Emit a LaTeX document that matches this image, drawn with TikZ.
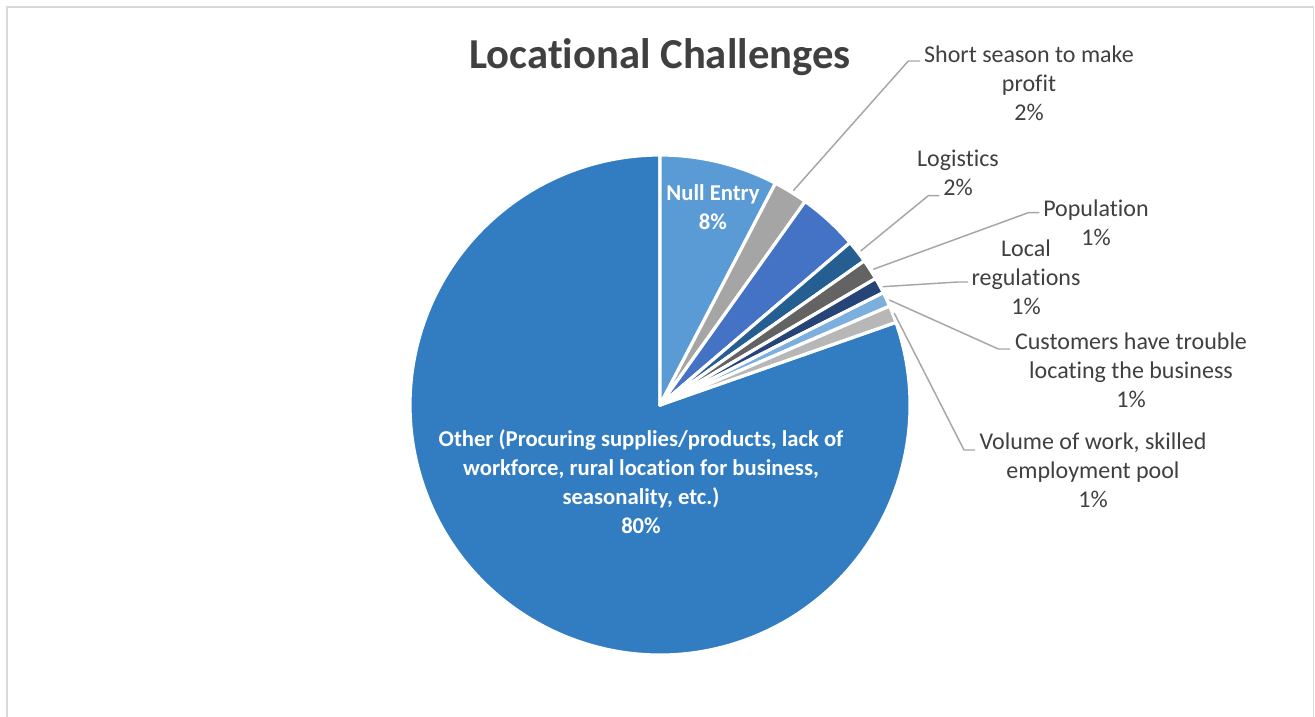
\documentclass[tikz,border=0pt]{standalone}
\usepackage{fontspec}
\setmainfont{Carlito}[Ligatures={NoCommon}]
\definecolor{txt}{HTML}{404040}
\definecolor{lead}{HTML}{A6A6A6}
\definecolor{frame}{HTML}{D9D9D9}
\definecolor{cOther}{HTML}{327DC2}
\definecolor{cNull}{HTML}{5B9BD5}
\definecolor{cShort}{HTML}{A5A5A5}
\definecolor{cBlue}{HTML}{4472C4}
\definecolor{cLog}{HTML}{255E91}
\definecolor{cPop}{HTML}{636363}
\definecolor{cLoc}{HTML}{264478}
\definecolor{cCust}{HTML}{7CAFDD}
\definecolor{cVol}{HTML}{B7B7B7}
\tikzset{
  slicebox/.style={draw=white, line width=2.4pt, line join=round},
  lbl/.style={text=txt, align=center, inner sep=0pt, font=\fontsize{18}{21.75}\selectfont},
  inlbl/.style={text=white, align=center, inner sep=0pt, font=\bfseries\fontsize{17}{21.75}\selectfont},
  leader/.style={draw=lead, line width=1.1pt},
}
\newcommand{\pieslice}[3]{%
  \fill[#3, slicebox] (c) -- ++(#1:187.5pt) arc[start angle=#1, end angle=#2, radius=187.5pt] -- cycle;}
\begin{document}
\begin{tikzpicture}[x=0.75pt,y=0.75pt]
\useasboundingbox (0,0) rectangle (1315,717);
\fill[white] (0,0) rectangle (1315,717);
\draw[frame, line width=1.2pt] (7,0) -- (7,710) -- (1313.5,710) -- (1313.5,0);
\coordinate (c) at (660,312);
\pieslice{19.3}{-270}{cOther}
\pieslice{90}{62.5}{cNull}
\pieslice{62.5}{54.5}{cShort}
\pieslice{54.5}{40.5}{cBlue}
\pieslice{40.5}{35.2}{cLog}
\pieslice{35.2}{30.4}{cPop}
\pieslice{30.4}{26.7}{cLoc}
\pieslice{26.7}{23.3}{cCust}
\pieslice{23.3}{19.3}{cVol}

\node[text=txt, font=\bfseries\fontsize{32}{36}\selectfont, inner sep=0pt] (title) at (660,660) {Locational Challenges};

\node[inlbl] (null) at (713,509.5) {Null Entry\\8\%};
\node[inlbl] (other) at (641,235.5) {Other (Procuring supplies/products, lack of\\workforce, rural location for business,\\seasonality, etc.)\\80\%};

\node[lbl] (short) at (1029,634) {Short season to make\\profit\\2\%};
\node[lbl] (logi) at (958,544.5) {Logistics\\2\%};
\node[lbl] (popu) at (1096,494.5) {Population\\1\%};
\node[lbl] (local) at (1026,440) {Local\\regulations\\1\%};
\node[lbl] (cust) at (1131,347) {Customers have trouble\\locating the business\\1\%};
\node[lbl] (vol) at (1093,247) {Volume of work, skilled\\employment pool\\1\%};

\coordinate (sA) at (793.3,526.3); \coordinate (sB) at (908.3,656); \coordinate (sC) at (920,656);
\coordinate (lA) at (860.7,466);   \coordinate (lB) at (928.3,521.3); \coordinate (lC) at (939.3,521.3);
\coordinate (pA) at (873.3,447.7); \coordinate (pB) at (1028.3,504.3); \coordinate (pC) at (1039.3,504.3);
\coordinate (rA) at (882.7,430.3); \coordinate (rB) at (958,435); \coordinate (rC) at (968,435);
\coordinate (cA) at (889.3,417);   \coordinate (cB) at (998.3,368); \coordinate (cC) at (1010,368);
\coordinate (vA) at (894.3,403.7); \coordinate (vB) at (964,267); \coordinate (vC) at (975,267);
\draw[leader] (sA) -- (sB) -- (sC);
\draw[leader] (lA) -- (lB) -- (lC);
\draw[leader] (pA) -- (pB) -- (pC);
\draw[leader] (rA) -- (rB) -- (rC);
\draw[leader] (cA) -- (cB) -- (cC);
\draw[leader] (vA) -- (vB) -- (vC);
\end{tikzpicture}
\end{document}
